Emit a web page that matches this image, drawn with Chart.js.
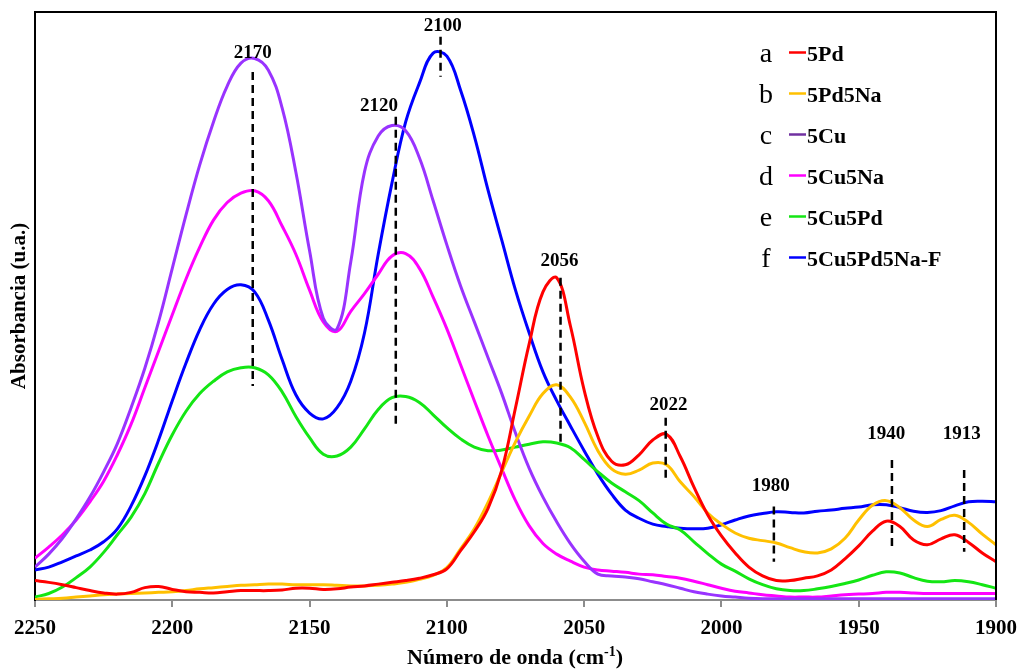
<!DOCTYPE html>
<html>
<head>
<meta charset="utf-8">
<script src="https://cdn.jsdelivr.net/npm/chart.js@4.4.0/dist/chart.umd.min.js"></script>
<style>
html, body { margin: 0; padding: 0; background: #fff; }
</style>
</head>
<body>
<canvas id="myChart" width="1021" height="670"></canvas>
<script>
var wavenumbers = [2250, 2245, 2240, 2235, 2230, 2225, 2220, 2215, 2210, 2205,
    2200, 2195, 2190, 2185, 2180, 2175, 2170, 2165, 2160, 2155,
    2150, 2145, 2140, 2135, 2130, 2125, 2120, 2115, 2110, 2105,
    2100, 2095, 2090, 2085, 2080, 2075, 2070, 2065, 2060, 2055,
    2050, 2045, 2040, 2035, 2030, 2025, 2020, 2015, 2010, 2005,
    2000, 1995, 1990, 1985, 1980, 1975, 1970, 1965, 1960, 1955,
    1950, 1945, 1940, 1935, 1930, 1925, 1920, 1915, 1910, 1905, 1900];

var pd = [3.3, 3.0, 2.6, 2.1, 1.6, 1.2, 1.0, 1.3, 2.1, 2.3,
    1.8, 1.4, 1.3, 1.2, 1.4, 1.6, 1.6, 1.6, 1.7, 2.0,
    2.0, 1.8, 1.9, 2.2, 2.4, 2.7, 3.0, 3.3, 3.7, 4.3,
    5.3, 8.4, 11.6, 15.6, 22.1, 32.7, 43.6, 52.4, 54.8, 46.6,
    35.7, 27.8, 23.6, 23.0, 24.7, 27.2, 28.2, 24.4, 19.2, 14.5,
    10.9, 8.0, 5.6, 4.1, 3.3, 3.3, 3.7, 4.1, 5.1, 7.0,
    9.2, 11.7, 13.4, 12.5, 10.2, 9.4, 10.4, 11.1, 9.8, 8.0, 6.5];

var pdNa = [0.1, 0.2, 0.3, 0.5, 0.7, 0.9, 1.0, 1.1, 1.2, 1.3,
    1.4, 1.6, 1.9, 2.1, 2.3, 2.5, 2.6, 2.7, 2.7, 2.6,
    2.6, 2.6, 2.5, 2.4, 2.4, 2.5, 2.7, 3.0, 3.5, 4.2,
    5.5, 8.7, 12.1, 16.6, 21.8, 26.9, 31.3, 35.1, 36.6, 34.5,
    30.3, 25.4, 22.3, 21.4, 22.1, 23.3, 23.0, 20.1, 17.6, 14.8,
    12.9, 11.4, 10.5, 10.1, 9.7, 8.9, 8.2, 8.0, 8.7, 10.5,
    13.6, 16.1, 16.9, 15.7, 13.6, 12.5, 13.7, 14.4, 13.2, 11.2, 9.4];

var cu = [5.6, 7.8, 10.5, 13.8, 17.5, 21.8, 26.6, 32.7, 39.4, 47.3,
    56.4, 65.5, 74.0, 81.3, 87.4, 91.3, 92.1, 90.1, 83.7, 72.8,
    59.4, 47.9, 46.1, 57.5, 72.8, 78.9, 80.7, 79.8, 75.2, 67.9,
    60.4, 53.4, 47.3, 41.2, 35.1, 28.4, 22.4, 17.5, 13.3, 9.6,
    6.6, 4.4, 4.1, 3.9, 3.6, 3.1, 2.6, 2.0, 1.4, 1.0,
    0.7, 0.5, 0.3, 0.2, 0.2, 0.2, 0.2, 0.2, 0.2, 0.2,
    0.2, 0.2, 0.2, 0.2, 0.2, 0.2, 0.2, 0.2, 0.2, 0.2, 0.2];

var cuNa = [7.1, 9.0, 11.1, 13.6, 16.7, 20.2, 24.7, 29.9, 36.1, 42.3,
    48.5, 54.6, 60.0, 64.6, 67.6, 69.2, 69.6, 67.9, 63.6, 58.8,
    52.7, 47.3, 45.7, 49.1, 52.1, 55.4, 58.5, 58.9, 56.4, 51.5,
    46.1, 40.0, 33.9, 27.9, 22.3, 16.9, 12.6, 9.6, 7.8, 6.6,
    5.6, 5.1, 4.9, 4.7, 4.4, 4.3, 4.0, 3.7, 3.2, 2.6,
    2.0, 1.5, 1.2, 0.9, 0.7, 0.5, 0.5, 0.5, 0.7, 0.9,
    1.0, 1.1, 1.3, 1.3, 1.2, 1.1, 1.1, 1.1, 1.1, 1.1, 1.1];

var cuPd = [0.5, 1.1, 2.2, 3.8, 5.6, 8.1, 11.1, 14.1, 18.1, 23.3,
    28.1, 32.1, 35.1, 37.2, 38.8, 39.5, 39.5, 38.3, 35.4, 31.2,
    27.6, 24.8, 24.5, 26.0, 29.1, 32.4, 34.4, 34.6, 33.6, 31.5,
    29.3, 27.4, 26.0, 25.4, 25.5, 26.0, 26.5, 26.9, 26.7, 25.9,
    23.9, 21.8, 19.9, 18.4, 16.9, 14.8, 12.9, 11.9, 9.9, 7.9,
    6.1, 4.9, 3.6, 2.6, 1.9, 1.6, 1.6, 1.9, 2.3, 2.8,
    3.4, 4.2, 4.8, 4.6, 3.8, 3.2, 3.1, 3.3, 3.1, 2.6, 2.0];

var cuPdNaF = [5.1, 5.6, 6.5, 7.5, 8.5, 9.9, 12.1, 16.0, 21.1, 27.2,
    33.9, 40.3, 46.0, 50.3, 52.8, 53.6, 52.4, 47.6, 40.9, 34.9,
    31.8, 30.8, 32.7, 37.2, 45.4, 58.8, 70.9, 81.3, 87.9, 93.0,
    92.5, 86.7, 78.9, 69.7, 61.2, 52.7, 45.4, 38.8, 33.9, 29.6,
    25.4, 21.4, 18.0, 15.3, 13.9, 12.9, 12.5, 12.2, 12.1, 12.2,
    12.8, 13.6, 14.3, 14.7, 15.0, 14.9, 14.8, 15.1, 15.3, 15.6,
    15.8, 16.2, 16.2, 15.7, 15.1, 14.9, 15.2, 16.0, 16.7, 16.8, 16.7];

var seriesNames = ['5Pd', '5Pd5Na', '5Cu', '5Cu5Na', '5Cu5Pd', '5Cu5Pd5Na-F'];
var seriesLetters = ['a', 'b', 'c', 'd', 'e', 'f'];
var seriesValues = [pd, pdNa, cu, cuNa, cuPd, cuPdNaF];
var seriesColors = ['#ff0000', '#ffc000', '#9933ff', '#ff00ff', '#14e614', '#0000ff'];
var legendColors = ['#ff0000', '#ffc000', '#7030a0', '#ff00ff', '#14e614', '#0000ff'];

// peak markers: label, line position, dash top/bottom, label position
var peakLabels = ['2170', '2120', '2100', '2056', '2022', '1980', '1940', '1913'];
var peakPos = [2170.7, 2118.6, 2102.3, 2058.6, 2020.3, 1980.9, 1937.9, 1911.6];
var peakTop = [89.8, 82.2, 95.8, 54.8, 31.0, 15.9, 23.8, 22.1];
var peakBottom = [36.4, 29.9, 89.0, 26.4, 20.7, 6.5, 9.1, 8.2];
var peakLabelX = [2170.7, 2124.7, 2101.5, 2059.0, 2019.3, 1982.0, 1940.0, 1912.5];
var peakLabelY = [93.0, 84.0, 97.6, 57.7, 33.2, 19.3, 28.3, 28.3];

var xTicks = [2250, 2200, 2150, 2100, 2050, 2000, 1950, 1900];

var serif = '"Liberation Serif", "Times New Roman", serif';

var extras = {
    id: 'extras',
    afterDatasetsDraw: function (chart) {
        var c = chart.ctx, a = chart.chartArea;
        var xs = chart.scales.x, ys = chart.scales.y;
        var i;
        c.save();
        // top and right frame
        c.strokeStyle = '#000';
        c.lineWidth = 2;
        c.beginPath();
        c.moveTo(a.left, a.top);
        c.lineTo(a.right, a.top);
        c.lineTo(a.right, a.bottom);
        c.stroke();

        // dashed peak lines
        c.setLineDash([8, 5]);
        c.lineWidth = 2.5;
        for (i = 0; i < peakLabels.length; i++) {
            var px = xs.getPixelForValue(peakPos[i]);
            c.beginPath();
            c.moveTo(px, ys.getPixelForValue(peakTop[i]));
            c.lineTo(px, ys.getPixelForValue(peakBottom[i]));
            c.stroke();
        }
        c.setLineDash([]);

        c.fillStyle = '#000';
        c.textAlign = 'center';
        c.textBaseline = 'middle';
        c.font = 'bold 19px ' + serif;
        for (i = 0; i < peakLabels.length; i++) {
            c.fillText(peakLabels[i], xs.getPixelForValue(peakLabelX[i]), ys.getPixelForValue(peakLabelY[i]));
        }

        // legend
        for (i = 0; i < seriesNames.length; i++) {
            var ry = 52.5 + i * 41;
            c.textAlign = 'center';
            c.textBaseline = 'alphabetic';
            c.font = '28px ' + serif;
            c.fillText(seriesLetters[i], 766, ry + 9);
            c.strokeStyle = legendColors[i];
            c.lineWidth = 2.5;
            c.beginPath();
            c.moveTo(789, ry);
            c.lineTo(806, ry);
            c.stroke();
            c.textAlign = 'left';
            c.font = 'bold 22px ' + serif;
            c.fillText(seriesNames[i], 807, ry + 8);
        }

        // x axis title with superscript
        var t1 = 'Número de onda (cm', sup = '-1', t2 = ')';
        c.textAlign = 'left';
        c.textBaseline = 'alphabetic';
        c.font = 'bold 22px ' + serif;
        var w1 = c.measureText(t1).width, w3 = c.measureText(t2).width;
        c.font = 'bold 14px ' + serif;
        var w2 = c.measureText(sup).width;
        var x0 = 515 - (w1 + w2 + w3) / 2, base = 664;
        c.font = 'bold 22px ' + serif;
        c.fillText(t1, x0, base);
        c.font = 'bold 14px ' + serif;
        c.fillText(sup, x0 + w1, base - 8);
        c.font = 'bold 22px ' + serif;
        c.fillText(t2, x0 + w1 + w2, base);
        c.restore();
    }
};

var ctx = document.getElementById('myChart').getContext('2d');
var myChart = new Chart(ctx, {
    type: 'line',
    data: {
        datasets: seriesNames.map(function (name, k) {
            return {
                label: name,
                data: wavenumbers.map(function (w, j) { return { x: w, y: seriesValues[k][j] }; }),
                borderColor: seriesColors[k],
                backgroundColor: seriesColors[k],
                borderWidth: 3,
                pointRadius: 0,
                tension: 0.4,
                fill: false
            };
        })
    },
    options: {
        responsive: false,
        animation: false,
        events: [],
        layout: { padding: { top: 12, right: 25, left: 0, bottom: 0 } },
        plugins: {
            legend: { display: false },
            tooltip: { enabled: false }
        },
        scales: {
            x: {
                type: 'linear',
                reverse: true,
                min: 1900,
                max: 2250,
                afterFit: function (s) { s.height = 70; s.paddingLeft = 0; s.paddingRight = 0; },
                afterBuildTicks: function (s) { s.ticks = xTicks.map(function (v) { return { value: v }; }); },
                ticks: {
                    autoSkip: false,
                    maxRotation: 0,
                    padding: 9,
                    color: '#000',
                    font: { family: serif, size: 21, weight: 'bold' },
                    callback: function (v) { return String(v); }
                },
                grid: {
                    drawOnChartArea: false,
                    drawTicks: true,
                    tickLength: 7,
                    color: '#8c8c8c',
                    lineWidth: 2
                },
                border: { color: '#8c8c8c', width: 2 }
            },
            y: {
                min: 0,
                max: 100,
                afterFit: function (s) { s.width = 35; },
                ticks: { display: false },
                grid: { display: false, drawTicks: false },
                border: { color: '#000', width: 2 },
                title: {
                    display: true,
                    text: 'Absorbancia (u.a.)',
                    color: '#000',
                    font: { family: serif, size: 21, weight: 'bold' },
                    padding: { top: 7, bottom: 0 }
                }
            }
        }
    },
    plugins: [extras]
});
</script>
</body>
</html>
